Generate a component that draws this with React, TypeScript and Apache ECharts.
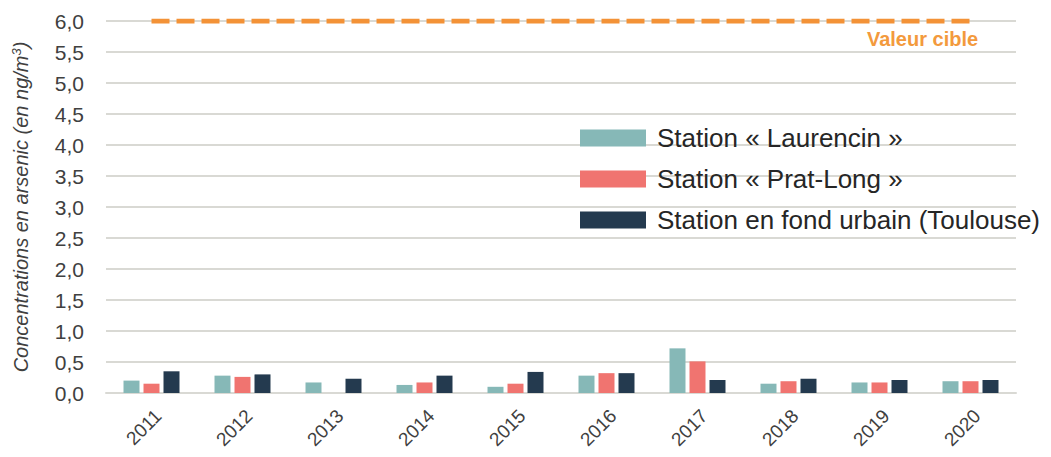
import React, { useEffect, useRef } from "react";
import * as echarts from "echarts";

const years = ["2011", "2012", "2013", "2014", "2015", "2016", "2017", "2018", "2019", "2020"];
const laurencin = [0.2, 0.28, 0.17, 0.13, 0.1, 0.28, 0.72, 0.15, 0.17, 0.19];
const pratLong = [0.15, 0.26, null, 0.17, 0.15, 0.32, 0.51, 0.19, 0.17, 0.19];
const urbain = [0.35, 0.3, 0.23, 0.28, 0.34, 0.32, 0.21, 0.23, 0.21, 0.21];
const cible = [6, 6, 6, 6, 6, 6, 6, 6, 6, 6];
const seriesNames = [
  "Station « Laurencin »",
  "Station « Prat-Long »",
  "Station en fond urbain (Toulouse)",
];

const SANS = "'Liberation Sans', Arial, sans-serif";

export default function App() {
  const ref = useRef<HTMLDivElement>(null);
  useEffect(() => {
    if (!ref.current) return;
    const chart = echarts.init(ref.current, null, { renderer: "svg" });
    const bar = (name: string, data: (number | null)[], color: string) => ({
      name,
      type: "bar",
      data,
      barWidth: 16,
      barGap: "25%",
      itemStyle: { color },
    });
    chart.setOption({
      animation: false,
      grid: { left: 106, right: 35, top: 21, bottom: 64, outerBoundsMode: "none", containLabel: false },
      legend: {
        data: seriesNames,
        orient: "vertical",
        left: 575,
        top: 120,
        itemWidth: 66,
        itemHeight: 17,
        itemGap: 15,
        icon: "rect",
        textStyle: { fontFamily: SANS, fontSize: 26, color: "#262626", padding: [0, 0, 0, 6] },
      },
      xAxis: {
        type: "category",
        data: years,
        axisTick: { show: false },
        axisLine: { lineStyle: { color: "#d9d9d4", width: 2 } },
        axisLabel: {
          rotate: 45,
          fontFamily: SANS,
          fontSize: 19,
          color: "#404040",
          margin: 13,
          verticalAlign: "top",
        },
      },
      yAxis: {
        type: "value",
        min: 0,
        max: 6,
        interval: 0.5,
        axisLabel: {
          formatter: (v: number) => v.toFixed(1).replace(".", ","),
          fontFamily: SANS,
          fontSize: 21,
          color: "#404040",
          margin: 22,
        },
        splitLine: { lineStyle: { color: "#d9d9d4", width: 2 } },
        name: "{a|Concentrations en arsenic (en ng/m}{s|3}{a|)}",
        nameLocation: "middle",
        nameGap: 74,
        nameTextStyle: {
          rich: {
            a: { fontFamily: SANS, fontStyle: "italic", fontSize: 20, color: "#404040" },
            s: { fontFamily: SANS, fontStyle: "italic", fontSize: 13, color: "#404040", verticalAlign: "top", padding: [0, 0, 9, 0] },
          },
        },
      },
      series: [
        bar(seriesNames[0], laurencin, "#86b8b7"),
        bar(seriesNames[1], pratLong, "#f07470"),
        bar(seriesNames[2], urbain, "#243a4f"),
        {
          name: "Valeur cible",
          type: "line",
          data: cible.map((v, i) =>
            i === cible.length - 1
              ? {
                  value: v,
                  label: {
                    show: true,
                    position: "bottom",
                    formatter: "Valeur cible",
                    offset: [-48, 3],
                    fontFamily: SANS,
                    fontWeight: "bold",
                    fontSize: 20,
                    color: "#f39a3d",
                  },
                }
              : v
          ),
          symbol: "circle",
          symbolSize: 0,
          showSymbol: true,
          lineStyle: { color: "#f39237", width: 5, type: [18, 7] },
          z: 5,
        },
      ],
    });
    return () => chart.dispose();
  }, []);
  return (
    <div
      ref={ref}
      style={{ position: "absolute", left: 0, top: 0, width: 1051, height: 457, background: "#fff" }}
    />
  );
}
